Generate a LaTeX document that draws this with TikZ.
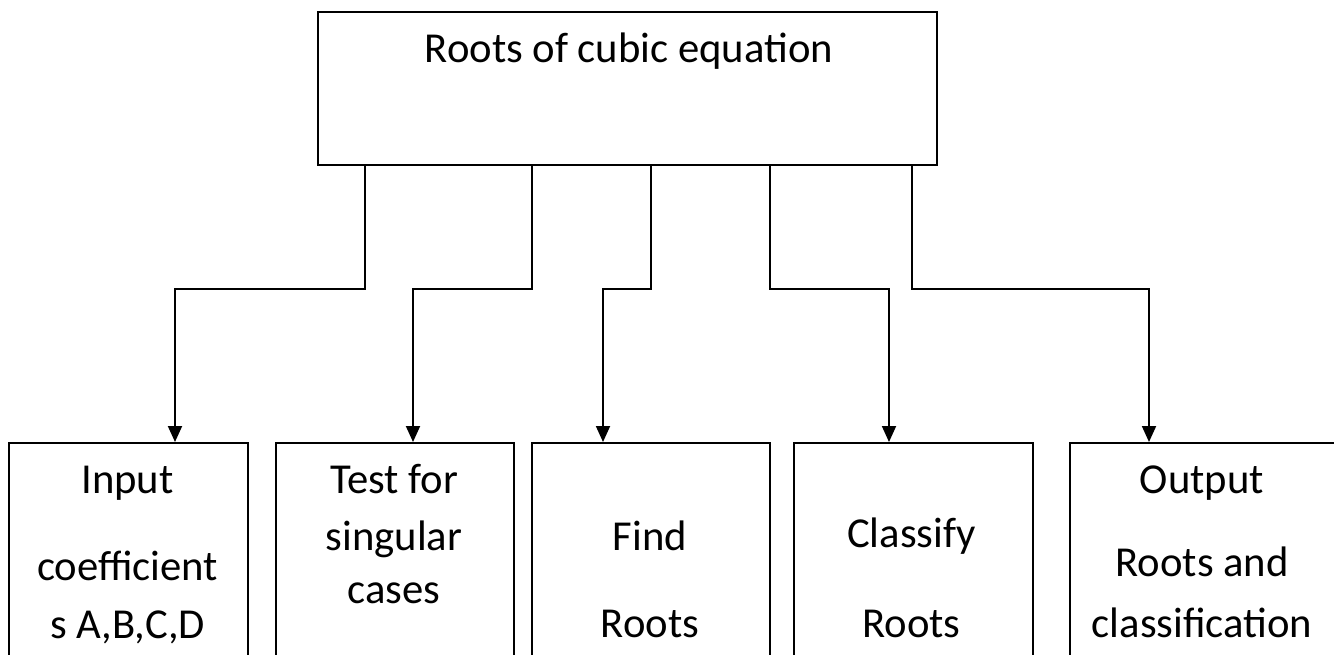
\documentclass[tikz,border=0pt]{standalone}
\usepackage{fontspec}
\setmainfont{Carlito}
\usetikzlibrary{arrows.meta,calc}
\tikzset{
  box/.style={draw=black, line width=1.4pt, rectangle, anchor=north west, inner sep=0pt},
  lowbox/.style={box, minimum height=300*0.75pt},
  label/.style={anchor=base, inner sep=0pt, font=\fontsize{32}{38}\selectfont},
  conn/.style={draw=black, line width=1.4pt, -{Triangle[width=10.5pt,length=12pt]}}
}
\begin{document}
\begin{tikzpicture}[x=0.75pt, y=-0.75pt]
  \clip (0,0) rectangle (1334,654);
  \fill[white] (0,0) rectangle (1334,654);

  % parent box
  \node[box, minimum width=619*0.75pt, minimum height=153*0.75pt] (top) at (317,11) {};
  \node[label] (ttop) at (629,62) {Roots of cubic equation};

  % task boxes (open towards the lower edge)
  \node[lowbox, minimum width=239*0.75pt] (b1) at (8,442) {};
  \node[lowbox, minimum width=238*0.75pt] (b2) at (275,442) {};
  \node[lowbox, minimum width=238*0.75pt] (b3) at (531,442) {};
  \node[lowbox, minimum width=239*0.75pt] (b4) at (793,442) {};
  \node[lowbox, minimum width=300*0.75pt] (b5) at (1069,442) {};

  % box texts
  \node[label] (t1a) at (127.5,493) {Input};
  \node[label] (t1b) at (127.5,580) {coefficient};
  \node[label] (t1c) at (127.5,638) {s A,B,C,D};

  \node[label] (t2a) at (394,493) {Test for};
  \node[label] (t2b) at (394,550) {singular};
  \node[label] (t2c) at (394,603) {cases};

  \node[label] (t3a) at (650,550) {Find};
  \node[label] (t3b) at (650,637) {Roots};

  \node[label] (t4a) at (911.5,547) {Classify};
  \node[label] (t4b) at (911.5,637) {Roots};

  \node[label] (t5a) at (1202,493) {Output};
  \node[label] (t5b) at (1202,576) {Roots and};
  \node[label] (t5c) at (1202,637) {classification};

  % elbow connectors from the parent box to each task box
  \draw[conn] ($(top.south west)+(48,0)$)  -- ++(0,123) -| ($(b1.north west)+(167,0)$);
  \draw[conn] ($(top.south west)+(215,0)$) -- ++(0,123) -| ($(b2.north west)+(138,0)$);
  \draw[conn] ($(top.south west)+(334,0)$) -- ++(0,123) -| ($(b3.north west)+(72,0)$);
  \draw[conn] ($(top.south west)+(453,0)$) -- ++(0,123) -| ($(b4.north west)+(96,0)$);
  \draw[conn] ($(top.south west)+(595,0)$) -- ++(0,123) -| ($(b5.north west)+(80,0)$);
\end{tikzpicture}
\end{document}
